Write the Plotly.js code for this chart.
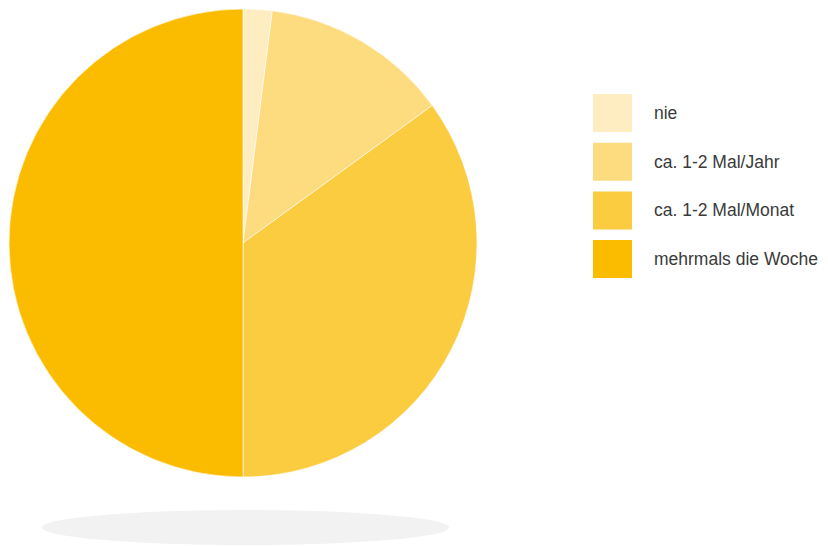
<!DOCTYPE html>
<html>
<head>
<meta charset="utf-8">
<script src="https://cdn.plot.ly/plotly-3.0.1.min.js"></script>
<style>html,body{margin:0;padding:0;background:#fff;}#chart{width:828px;height:546px;}</style>
</head>
<body>
<div id="chart"></div>
<script>
const categories = ["nie", "ca. 1-2 Mal/Jahr", "ca. 1-2 Mal/Monat", "mehrmals die Woche"];
const values = [2, 13, 35, 50];
const colors = ["#FEEDC0", "#FDDC80", "#FCCC40", "#FBBC00"];

const W = 828, H = 546;
const px = x => x / W;
const py = y => 1 - y / H;

const shapes = [];
const annotations = [];

// shadow below the pie
shapes.push({type: "circle", xref: "paper", yref: "paper",
  x0: px(42), x1: px(449), y0: py(545), y1: py(510),
  fillcolor: "#F2F2F2", line: {width: 0}, layer: "below"});

// custom legend
categories.forEach((c, i) => {
  const top = 94 + i * 48.7;
  shapes.push({type: "rect", xref: "paper", yref: "paper",
    x0: px(593), x1: px(632), y0: py(top + 38), y1: py(top),
    fillcolor: colors[i], line: {width: 0}});
  annotations.push({xref: "paper", yref: "paper", x: px(652), y: py(top + 19),
    xanchor: "left", yanchor: "middle", showarrow: false, text: c,
    font: {family: "Liberation Sans, Arial, sans-serif", size: 17.5, color: "#3a3a3a"}});
});

const trace = {
  type: "pie",
  labels: categories,
  values: values,
  sort: false,
  direction: "clockwise",
  rotation: 0,
  textinfo: "none",
  hoverinfo: "label+percent",
  marker: {colors: colors, line: {color: "#ffffff", width: 0.6}},
  domain: {x: [px(9), px(477)], y: [py(477), py(9)]},
  showlegend: false
};

const layout = {
  width: W, height: H,
  margin: {l: 0, r: 0, t: 0, b: 0},
  paper_bgcolor: "#fff",
  plot_bgcolor: "#fff",
  showlegend: false,
  shapes: shapes,
  annotations: annotations
};

Plotly.newPlot("chart", [trace], layout, {displayModeBar: false, staticPlot: true});
</script>
</body>
</html>
